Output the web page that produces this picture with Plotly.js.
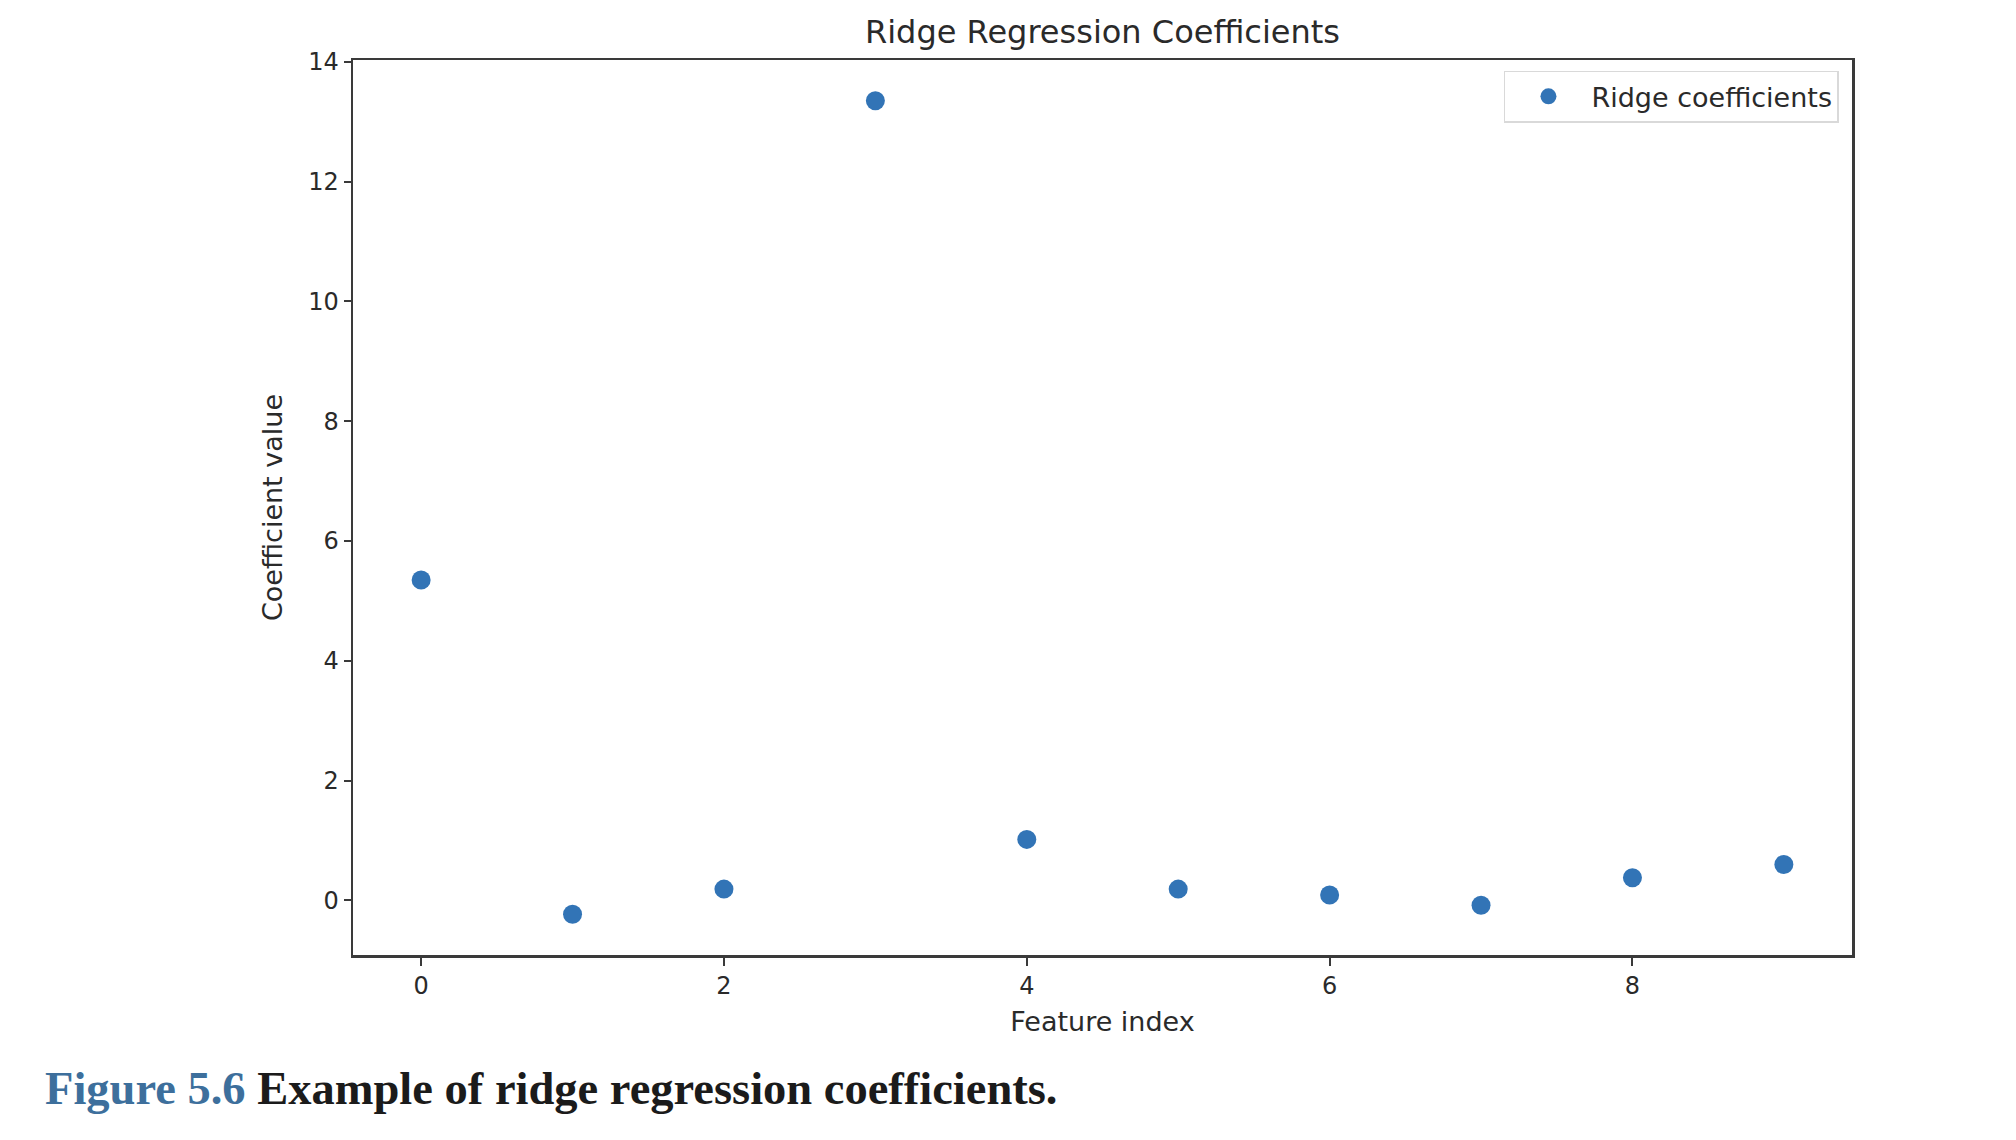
<!DOCTYPE html>
<html>
<head>
<meta charset="utf-8">
<script src="https://cdn.plot.ly/plotly-3.0.1.min.js"></script>
<style>
  html, body { margin: 0; padding: 0; background: #fff; }
  #myDiv { width: 2016px; height: 1140px; }
</style>
</head>
<body>
<div id="myDiv"></div>
<script>
// ridge coefficients
var featureIndex = [0, 1, 2, 3, 4, 5, 6, 7, 8, 9];
var coefValues = [5.35, -0.23, 0.19, 13.35, 1.02, 0.19, 0.09, -0.08, 0.38, 0.6];

var xTicks = [0, 2, 4, 6, 8];
var yTicks = [0, 2, 4, 6, 8, 10, 12, 14];

var axisColor = "#3a3a3a";
var textColor = "#2a2a2a";

var trace1 = {
  type: "scatter",
  mode: "markers",
  name: "Ridge coefficients",
  x: featureIndex,
  y: coefValues,
  marker: { color: "#3274b6", size: 19, line: { width: 0 } },
  hoverinfo: "x+y",
};

var data = [trace1];

var layout = {
  width: 2016,
  height: 1140,
  paper_bgcolor: "#fff",
  plot_bgcolor: "#fff",
  font: { family: "DejaVu Sans", color: textColor, size: 24 },
  margin: { l: 353, r: 164, t: 60, b: 185 },
  showlegend: true,
  title: {
    text: "Ridge Regression Coefficients",
    font: { family: "DejaVu Sans", size: 32, color: textColor },
    x: 0.5,
    xref: "paper",
    xanchor: "center",
    y: 1 - 32 / 1140,
    yref: "container",
    yanchor: "middle",
  },
  xaxis: {
    range: [-0.45, 9.45],
    tickvals: xTicks,
    ticks: "outside",
    ticklen: 8,
    tickwidth: 2,
    tickcolor: axisColor,
    showline: true,
    linecolor: axisColor,
    linewidth: 2.5,
    mirror: true,
    showgrid: false,
    zeroline: false,
    tickfont: { size: 24 },
    title: { text: "Feature index", font: { size: 27 }, standoff: 13 },
  },
  yaxis: {
    range: [-0.91, 14.03],
    tickvals: yTicks,
    ticks: "outside",
    ticklen: 7,
    tickwidth: 2,
    tickcolor: axisColor,
    showline: true,
    linecolor: axisColor,
    linewidth: 2.5,
    mirror: true,
    showgrid: false,
    zeroline: false,
    tickfont: { size: 24 },
    title: { text: "Coefficient value", font: { size: 27 }, standoff: 18 },
  },
  legend: {
    x: 0.9913,
    y: 0.988,
    xanchor: "right",
    yanchor: "top",
    bgcolor: "rgba(255,255,255,0.9)",
    bordercolor: "#d9d9d9",
    borderwidth: 1.5,
    font: { size: 27, color: textColor },
    itemwidth: 76,
  },
  annotations: [
    {
      text:
        '<span style="color:#3d6f9c">Figure 5.6</span> Example of ridge regression coefficients.',
      xref: "paper",
      yref: "paper",
      x: (43 - 353) / 1499,
      y: (955 - 1088) / 895,
      xanchor: "left",
      yanchor: "middle",
      showarrow: false,
      font: { family: "Liberation Serif", size: 46.5, color: "#1b1b1b", weight: "bold" },
    },
  ],
};

var config = { displayModeBar: false, staticPlot: true };

Plotly.newPlot("myDiv", data, layout, config);
</script>
</body>
</html>
